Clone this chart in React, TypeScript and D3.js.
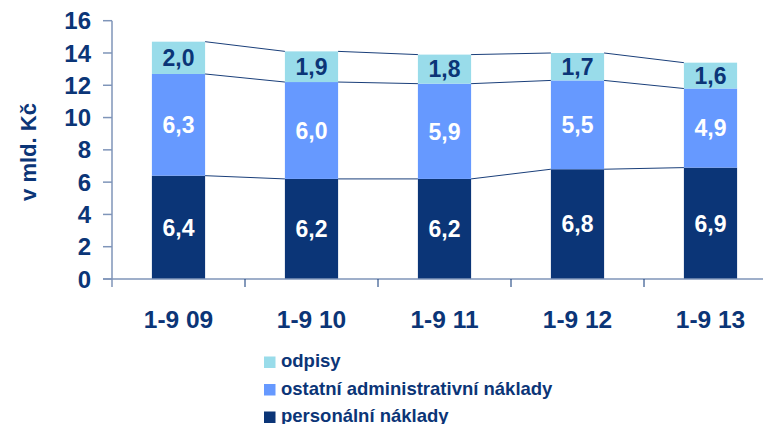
import React, { useEffect, useRef } from 'react';
import * as d3 from 'd3';

const categories = ['1-9 09', '1-9 10', '1-9 11', '1-9 12', '1-9 13'];
const personalni = [6.4, 6.2, 6.2, 6.8, 6.9];
const ostatni = [6.3, 6.0, 5.9, 5.5, 4.9];
const odpisy = [2.0, 1.9, 1.8, 1.7, 1.6];
const yTicks = [0, 2, 4, 6, 8, 10, 12, 14, 16];
const seriesNames = ['personální náklady', 'ostatní administrativní náklady', 'odpisy'];
const seriesColors = ['#0b3577', '#6699ff', '#99dcea'];
const labelColors = ['#ffffff', '#ffffff', '#0b3577'];

const W = 763;
const H = 424;
const FONT = '"Liberation Sans", Arial, sans-serif';
const NAVY = '#0b3577';
const AXIS = '#7f95b9';

export default function App() {
  const ref = useRef<SVGSVGElement>(null);

  useEffect(() => {
    if (!ref.current) return;
    const svg = d3.select(ref.current);
    svg.selectAll('*').remove();

    const x = d3.scaleBand<string>()
      .domain(categories)
      .range([112, 777])
      .paddingInner(0.6)
      .paddingOuter(0.3);
    const y = d3.scaleLinear().domain([0, 16]).range([279, 20.7]);

    const table = categories.map((c, i) => ({
      cat: c,
      personalni: personalni[i],
      ostatni: ostatni[i],
      odpisy: odpisy[i],
    }));
    const stack = d3.stack<any>().keys(['personalni', 'ostatni', 'odpisy']);
    const layers = stack(table);

    // bars
    layers.forEach((layer, li) => {
      svg.append('g')
        .selectAll('rect')
        .data(layer)
        .enter()
        .append('rect')
        .attr('x', (d) => x(d.data.cat)!)
        .attr('y', (d) => y(d[1]))
        .attr('width', x.bandwidth())
        .attr('height', (d) => y(d[0]) - y(d[1]))
        .attr('fill', seriesColors[li]);
    });

    // series connecting lines
    layers.forEach((layer) => {
      for (let i = 0; i < layer.length - 1; i++) {
        const a = layer[i];
        const b = layer[i + 1];
        svg.append('line')
          .attr('x1', x(a.data.cat)! + x.bandwidth())
          .attr('y1', y(a[1]))
          .attr('x2', x(b.data.cat)!)
          .attr('y2', y(b[1]))
          .attr('stroke', '#1a3f7a')
          .attr('stroke-width', 1);
      }
    });

    // segment labels
    layers.forEach((layer, li) => {
      svg.append('g')
        .selectAll('text')
        .data(layer)
        .enter()
        .append('text')
        .attr('x', (d) => x(d.data.cat)! + x.bandwidth() / 2)
        .attr('y', (d) => (y(d[0]) + y(d[1])) / 2)
        .attr('dy', '0.36em')
        .attr('text-anchor', 'middle')
        .attr('font-family', FONT)
        .attr('font-weight', 'bold')
        .attr('font-size', 23)
        .attr('fill', labelColors[li])
        .text((d) => (d[1] - d[0]).toFixed(1).replace('.', ','));
    });

    // y axis
    const ya = svg.append('g');
    ya.append('line')
      .attr('x1', 112).attr('x2', 112)
      .attr('y1', y(16)).attr('y2', y(0) + 8)
      .attr('stroke', AXIS).attr('stroke-width', 1.5);
    yTicks.forEach((t) => {
      ya.append('line')
        .attr('x1', 103).attr('x2', 112)
        .attr('y1', y(t)).attr('y2', y(t))
        .attr('stroke', AXIS).attr('stroke-width', 1.5);
      ya.append('text')
        .attr('x', 91)
        .attr('y', y(t))
        .attr('dy', '0.36em')
        .attr('text-anchor', 'end')
        .attr('font-family', FONT)
        .attr('font-weight', 'bold')
        .attr('font-size', 24)
        .attr('fill', NAVY)
        .text(t);
    });

    // x axis
    const xa = svg.append('g');
    xa.append('line')
      .attr('x1', 103).attr('x2', W)
      .attr('y1', y(0)).attr('y2', y(0))
      .attr('stroke', AXIS).attr('stroke-width', 1.5);
    const step = x.step();
    categories.forEach((c, i) => {
      if (i > 0) {
        const tx = x(c)! - (step - x.bandwidth()) / 2;
        xa.append('line')
          .attr('x1', tx).attr('x2', tx)
          .attr('y1', y(0)).attr('y2', y(0) + 8)
          .attr('stroke', NAVY).attr('stroke-width', 1);
      }
      xa.append('text')
        .attr('x', x(c)! + x.bandwidth() / 2)
        .attr('y', 327.5)
        .attr('text-anchor', 'middle')
        .attr('font-family', FONT)
        .attr('font-weight', 'bold')
        .attr('font-size', 24.5)
        .attr('fill', NAVY)
        .text(c);
    });

    // y title
    svg.append('text')
      .attr('transform', 'translate(36,152) rotate(-90)')
      .attr('text-anchor', 'middle')
      .attr('font-family', FONT)
      .attr('font-weight', 'bold')
      .attr('font-size', 22)
      .attr('fill', NAVY)
      .text('v mld. Kč');

    // legend (top series first)
    const legendOrder = [2, 1, 0];
    legendOrder.forEach((si, row) => {
      const by = 368 + row * 27.5;
      svg.append('rect')
        .attr('x', 264).attr('y', by - 11.5)
        .attr('width', 11.5).attr('height', 11.5)
        .attr('fill', seriesColors[si]);
      svg.append('text')
        .attr('x', 281)
        .attr('y', by - 1)
        .attr('font-family', FONT)
        .attr('font-weight', 'bold')
        .attr('font-size', 18.5)
        .attr('fill', NAVY)
        .text(seriesNames[si]);
    });
  }, []);

  return (
    <svg
      ref={ref}
      width={W}
      height={H}
      style={{ position: 'absolute', left: 0, top: 0, background: '#fff' }}
    />
  );
}
